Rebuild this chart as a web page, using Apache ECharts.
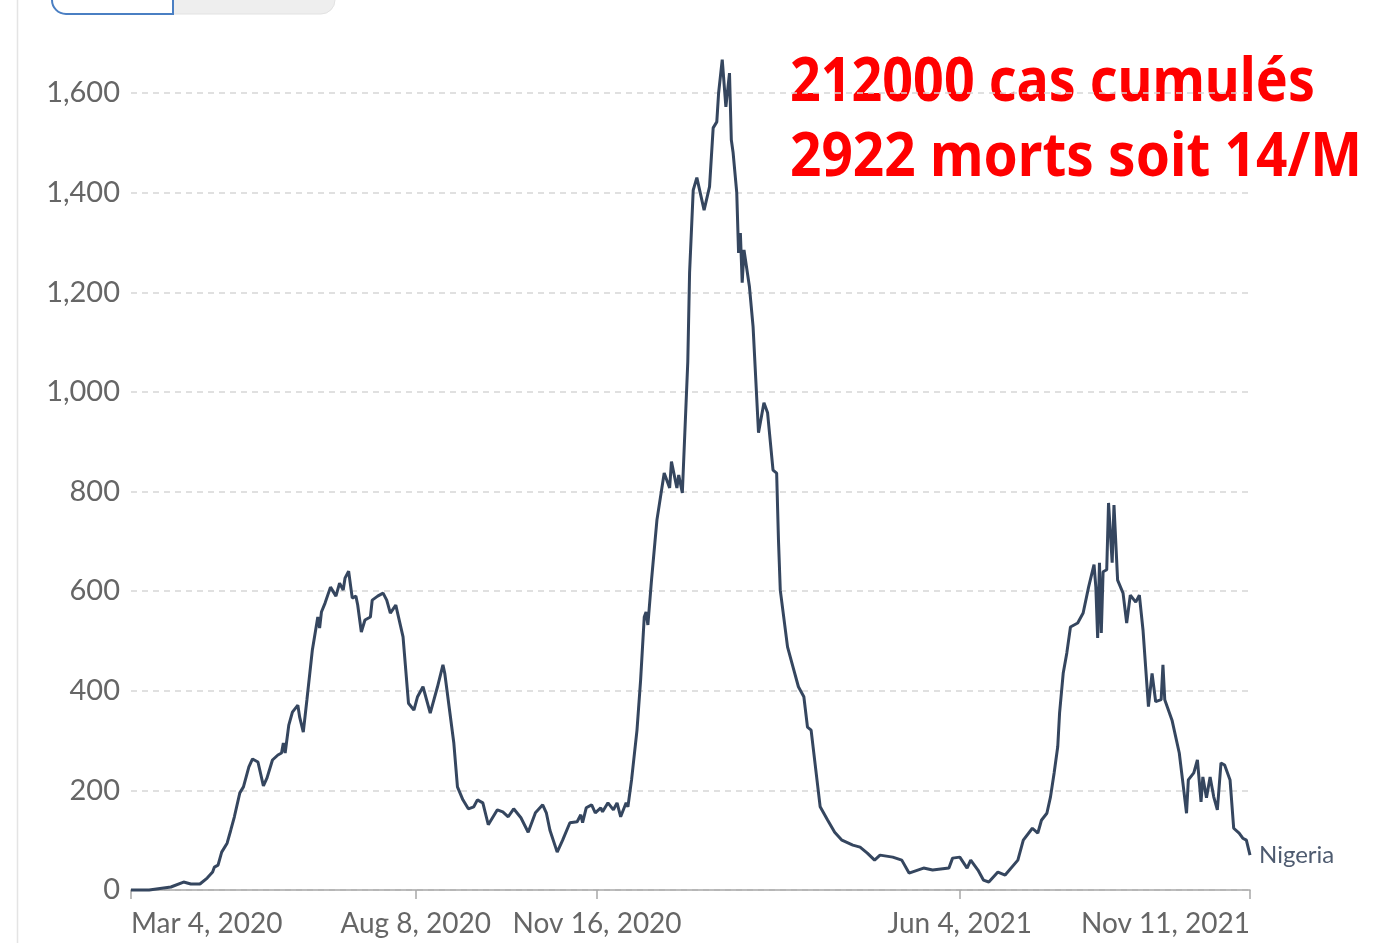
<!DOCTYPE html>
<html>
<head>
<meta charset="utf-8">
<script src="https://cdn.jsdelivr.net/npm/echarts@6/dist/echarts.min.js"></script>
<style>
  html, body { margin: 0; padding: 0; background: #ffffff; }
  #chart { width: 1377px; height: 943px; }
</style>
</head>
<body>
<div id="chart"></div>
<script>
// ---- Data ----
const startDate = '2020-03-04';
const seriesName = 'Nigeria';
// days since 2020-03-04
const dayOffsets = [
  0, 10, 12, 22, 29, 33, 38, 42, 45, 46, 48, 50, 53, 55, 57, 60, 62, 65, 67, 70,
  73, 75, 78, 81, 83, 84, 85, 87, 89, 92, 93, 95, 97, 100, 103, 104, 105, 107, 110, 111,
  113, 115, 117, 118, 120, 122, 124, 125, 127, 129, 132, 133, 136, 139, 141, 143, 146, 150, 153, 156,
  158, 161, 165, 169, 172, 173, 178, 180, 183, 186, 189, 191, 194, 197, 202, 205, 208, 211, 215, 219,
  223, 227, 229, 231, 235, 238, 242, 246, 248, 249, 251, 254, 256, 259, 260, 263, 266, 268, 270, 273,
  274, 276, 279, 281, 283, 284, 285, 287, 289, 290, 294, 297, 298, 301, 302, 304, 307, 308, 310, 312,
  316, 319, 321, 323, 324, 326, 328, 330, 331, 332, 334, 335, 336, 337, 338, 341, 343, 346, 349, 351,
  354, 356, 357, 358, 362, 365, 368, 371, 373, 375, 380, 384, 388, 392, 398, 402, 406, 410, 413, 420,
  425, 429, 437, 442, 451, 453, 457, 461, 463, 467, 470, 473, 478, 482, 489, 492, 497, 500, 502, 505,
  507, 509, 511, 512, 514, 516, 518, 522, 525, 528, 531, 532, 533, 534, 535, 536, 538, 539, 541, 542,
  544, 547, 549, 551, 554, 556, 558, 561, 563, 565, 568, 569, 570, 574, 578, 580, 582, 583, 586, 588,
  590, 591, 593, 595, 597, 599, 601, 603, 606, 608, 611, 613, 615, 617
];
const dailyCases = [
  0, 0, 1, 6, 16, 12, 12, 24, 36, 46, 50, 76, 94, 120, 147, 195, 207, 247, 263, 257,
  209, 225, 261, 271, 275, 295, 275, 331, 357, 371, 347, 317, 382, 482, 548, 526, 558, 576, 608, 612,
  590, 616, 602, 626, 640, 586, 590, 572, 518, 542, 548, 582, 590, 596, 582, 556, 572, 508, 375, 361,
  388, 408, 355, 408, 452, 435, 295, 207, 181, 163, 167, 181, 175, 131, 161, 157, 147, 163, 145, 116,
  155, 171, 155, 120, 76, 100, 135, 137, 151, 135, 165, 171, 155, 165, 157, 175, 161, 175, 147, 175,
  167, 221, 321, 422, 548, 558, 532, 622, 703, 743, 837, 807, 860, 807, 833, 797, 1060, 1240, 1405, 1430,
  1365, 1412, 1530, 1542, 1600, 1667, 1572, 1640, 1506, 1480, 1400, 1279, 1319, 1219, 1285, 1211, 1131, 918, 978, 958,
  843, 837, 703, 602, 488, 448, 408, 388, 327, 321, 167, 141, 116, 100, 90, 86, 74, 60, 70, 66,
  60, 34, 44, 40, 44, 64, 66, 44, 60, 40, 20, 16, 36, 30, 60, 100, 124, 114, 140, 154,
  187, 235, 288, 355, 435, 476, 528, 536, 556, 608, 653, 608, 506, 657, 516, 639, 643, 777, 657, 773,
  622, 596, 536, 592, 578, 592, 522, 368, 435, 378, 382, 452, 382, 341, 275, 215, 154, 221, 235, 261,
  177, 227, 185, 227, 187, 161, 255, 251, 221, 124, 114, 104, 100, 70
];
const xTickDates = ['2020-03-04', '2020-08-08', '2020-11-16', '2021-06-04', '2021-11-11'];
const yTicks = [0, 200, 400, 600, 800, 1000, 1200, 1400, 1600];
const annotationLines = ['212000 cas cumulés', '2922 morts soit 14/M'];

// ---- Build ----
const DAY = 86400000;
const t0 = Date.parse(startDate + 'T00:00:00Z');
const points = dayOffsets.map((d, i) => [t0 + d * DAY, dailyCases[i]]);
const xTicks = xTickDates.map(s => Date.parse(s + 'T00:00:00Z'));
const MONTHS = ['Jan','Feb','Mar','Apr','May','Jun','Jul','Aug','Sep','Oct','Nov','Dec'];
function fmtDate(v) {
  const d = new Date(v);
  return MONTHS[d.getUTCMonth()] + ' ' + d.getUTCDate() + ', ' + d.getUTCFullYear();
}

// scale the red annotation horizontally to match the reference widths
const annFont = 'bold 61px "Noto Sans"';
const targetWidths = [525, 572];
const cv = document.createElement('canvas').getContext('2d');
cv.font = annFont;
const scales = annotationLines.map((t, i) => targetWidths[i] / cv.measureText(t).width);

const chart = echarts.init(document.getElementById('chart'), null, { renderer: 'canvas' });
chart.setOption({
  backgroundColor: '#ffffff',
  animation: false,
  grid: { left: 131, right: 127, top: 93, bottom: 53, containLabel: false },
  xAxis: {
    type: 'value',
    min: xTicks[0],
    max: xTicks[xTicks.length - 1],
    axisLine: { show: true, lineStyle: { color: '#a8a8a8', width: 1.5 } },
    axisTick: { show: true, customValues: xTicks, length: 9, lineStyle: { color: '#a8a8a8', width: 1.5 } },
    splitLine: { show: false },
    axisLabel: {
      customValues: xTicks,
      formatter: fmtDate,
      fontFamily: 'Lato',
      fontSize: 28,
      color: '#666666',
      margin: 20,
      hideOverlap: false,
      alignMinLabel: 'left',
      alignMaxLabel: 'right'
    }
  },
  yAxis: {
    type: 'value',
    min: 0,
    max: 1600,
    interval: 200,
    axisLine: { show: false },
    axisTick: { show: false },
    splitLine: { show: true, lineStyle: { color: '#d6d6d6', type: [6, 5], width: 1.5 } },
    axisLabel: {
      formatter: v => v.toLocaleString('en-US'),
      fontFamily: 'Lato',
      fontSize: 29,
      color: '#666666',
      margin: 11
    }
  },
  series: [{
    name: seriesName,
    type: 'line',
    data: points,
    showSymbol: false,
    clip: false,
    lineStyle: { color: '#35465f', width: 3 },
    itemStyle: { color: '#35465f' },
    endLabel: {
      show: true,
      formatter: seriesName,
      fontFamily: 'Lato',
      fontSize: 24,
      color: '#4e5b70',
      distance: 9
    }
  }],
  graphic: [
    { type: 'line', shape: { x1: 17.5, y1: 0, x2: 17.5, y2: 943 }, style: { stroke: '#e4e4e4', lineWidth: 1.5 } },
    { type: 'rect', shape: { x: 52, y: -24, width: 283, height: 38, r: 14 }, style: { fill: '#eeeeee', stroke: '#e2e2e2', lineWidth: 1 } },
    { type: 'rect', shape: { x: 52, y: -24, width: 121, height: 38, r: [0, 0, 0, 14] }, style: { fill: '#ffffff', stroke: '#4a7fc3', lineWidth: 2 } },
    {
      type: 'text', x: 790, y: 84, scaleX: scales[0],
      style: { text: annotationLines[0], font: annFont, fill: '#ff0000', textAlign: 'left', textVerticalAlign: 'middle' }
    },
    {
      type: 'text', x: 790, y: 159, scaleX: scales[1],
      style: { text: annotationLines[1], font: annFont, fill: '#ff0000', textAlign: 'left', textVerticalAlign: 'middle' }
    }
  ]
});
</script>
</body>
</html>
